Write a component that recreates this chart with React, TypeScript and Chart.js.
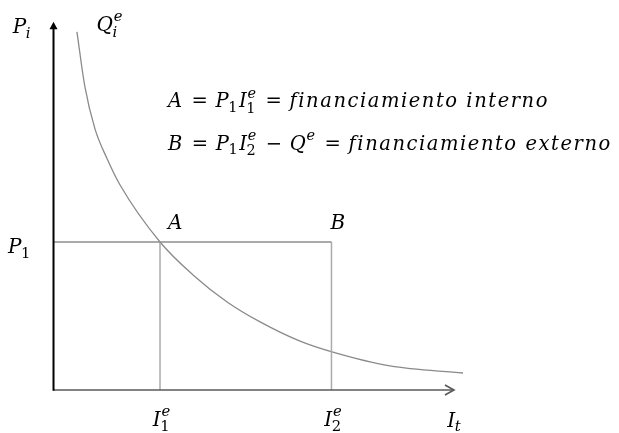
import { useEffect, useRef } from "react";
import { Chart, registerables } from "chart.js";

Chart.register(...registerables);

// ---- data (economic units) ----
const curveI = [0.44, 0.59, 0.78, 1.0, 1.25, 2.0, 2.62, 3.26, 3.88, 4.63, 5.23, 6.32, 7.69];
const curveP = [9.68, 8.19, 7.05, 6.27, 5.54, 4.0, 3.11, 2.38, 1.84, 1.32, 1.03, 0.65, 0.46];
const I1 = 2;
const I2 = 5.22;
const P1 = 4;
const axisEndI = 7.52;
const axisEndP = 9.95;

type Tok = { t: string; it?: boolean; op?: boolean; sub?: string; sup?: string };

const labelPi: Tok[] = [{ t: "P", it: true, sub: "i" }];
const labelQ: Tok[] = [{ t: "Q", it: true, sub: "i", sup: "e" }];
const labelP1: Tok[] = [{ t: "P", it: true, sub: "1" }];
const labelI1: Tok[] = [{ t: "I", it: true, sub: "1", sup: "e" }];
const labelI2: Tok[] = [{ t: "I", it: true, sub: "2", sup: "e" }];
const labelIt: Tok[] = [{ t: "I", it: true, sub: "t" }];
const labelA: Tok[] = [{ t: "A", it: true }];
const labelB: Tok[] = [{ t: "B", it: true }];
const eq1: Tok[] = [
  { t: "A", it: true },
  { t: "=", op: true },
  { t: "P", it: true, sub: "1" },
  { t: "I", it: true, sub: "1", sup: "e" },
  { t: "=", op: true },
  { t: "financiamiento interno", it: true },
];
const eq2: Tok[] = [
  { t: "B", it: true },
  { t: "=", op: true },
  { t: "P", it: true, sub: "1" },
  { t: "I", it: true, sub: "2", sup: "e" },
  { t: "\u2212", op: true },
  { t: "Q", it: true, sup: "e" },
  { t: "=", op: true },
  { t: "financiamiento externo", it: true },
];

const FAM = '"DejaVu Serif", serif';

function setFont(ctx: CanvasRenderingContext2D, size: number, it: boolean) {
  ctx.font = `${it ? "italic " : ""}${size}px ${FAM}`;
}

// width of a string drawn char by char with extra spacing
function spacedWidth(ctx: CanvasRenderingContext2D, text: string, ls: number) {
  let w = 0;
  for (const ch of text) w += ctx.measureText(ch).width + ls;
  return w;
}

function drawMath(
  ctx: CanvasRenderingContext2D,
  toks: Tok[],
  x: number,
  y: number,
  s: number,
  align: "left" | "right" | "center" = "left",
  ls = 0
) {
  const ss = s * 0.74;
  const gap = s * 0.4;
  const items: { text: string; dx: number; dy: number; size: number; it: boolean; ls: number }[] = [];
  let cx = 0;
  for (const tk of toks) {
    if (tk.op) {
      cx += gap;
      setFont(ctx, s, false);
      items.push({ text: tk.t, dx: cx, dy: 0, size: s, it: false, ls: 0 });
      cx += ctx.measureText(tk.t).width + gap;
      continue;
    }
    setFont(ctx, s, !!tk.it);
    items.push({ text: tk.t, dx: cx, dy: 0, size: s, it: !!tk.it, ls });
    cx += spacedWidth(ctx, tk.t, ls) - (tk.sub || tk.sup ? ls : 0);
    let w = 0;
    if (tk.sup) {
      setFont(ctx, ss, true);
      items.push({ text: tk.sup, dx: cx + s * 0.04, dy: -s * 0.5, size: ss, it: true, ls: 0 });
      w = Math.max(w, ctx.measureText(tk.sup).width + s * 0.04);
    }
    if (tk.sub) {
      const isDigit = /\d/.test(tk.sub);
      setFont(ctx, ss, !isDigit);
      items.push({
        text: tk.sub,
        dx: cx - s * 0.02,
        dy: tk.sup ? s * 0.27 : s * 0.22,
        size: ss,
        it: !isDigit,
        ls: 0,
      });
      w = Math.max(w, ctx.measureText(tk.sub).width - s * 0.02);
    }
    if (tk.sub || tk.sup) w += ls;
    cx += w;
  }
  const x0 = align === "left" ? x : align === "right" ? x - cx : x - cx / 2;
  ctx.save();
  ctx.fillStyle = "#000";
  ctx.textBaseline = "alphabetic";
  ctx.textAlign = "left";
  for (const it of items) {
    setFont(ctx, it.size, it.it);
    let px = x0 + it.dx;
    for (const ch of it.text) {
      ctx.fillText(ch, px, y + it.dy);
      px += ctx.measureText(ch).width + it.ls;
    }
  }
  ctx.restore();
}

const annotations = {
  id: "econAnnotations",
  afterDatasetsDraw(chart: Chart) {
    const ctx = chart.ctx;
    const xs = chart.scales.x;
    const ys = chart.scales.y;
    const ox = xs.getPixelForValue(0);
    const oy = ys.getPixelForValue(0);
    const xEnd = xs.getPixelForValue(axisEndI);
    const yEnd = ys.getPixelForValue(axisEndP);

    ctx.save();
    // x axis with open chevron
    ctx.strokeStyle = "#5a5a5a";
    ctx.lineWidth = 1.7;
    ctx.beginPath();
    ctx.moveTo(ox, oy);
    ctx.lineTo(xEnd, oy);
    ctx.stroke();
    ctx.beginPath();
    ctx.moveTo(xEnd - 9, oy - 5);
    ctx.lineTo(xEnd, oy);
    ctx.lineTo(xEnd - 9, oy + 5);
    ctx.stroke();
    // y axis with filled triangle
    ctx.strokeStyle = "#000";
    ctx.fillStyle = "#000";
    ctx.lineWidth = 2;
    ctx.beginPath();
    ctx.moveTo(ox, oy + 0.8);
    ctx.lineTo(ox, yEnd + 6);
    ctx.stroke();
    ctx.beginPath();
    ctx.moveTo(ox, yEnd);
    ctx.lineTo(ox - 4, yEnd + 7.5);
    ctx.lineTo(ox + 4, yEnd + 7.5);
    ctx.closePath();
    ctx.fill();
    ctx.restore();

    const pxI1 = xs.getPixelForValue(I1);
    const pxI2 = xs.getPixelForValue(I2);
    const pyP1 = ys.getPixelForValue(P1);
    const cx0 = xs.getPixelForValue(curveI[0]);
    const cy0 = ys.getPixelForValue(curveP[0]);

    const S = 20;
    drawMath(ctx, labelPi, ox - 23, yEnd + 11.6, S, "right");
    drawMath(ctx, labelQ, cx0 + 19.5, cy0 - 0.5, S, "left");
    drawMath(ctx, labelP1, ox - 23, pyP1 + 11.3, S, "right");
    drawMath(ctx, labelA, pxI1 + 8, pyP1 - 12.7, S, "left");
    drawMath(ctx, labelB, pxI2 - 1, pyP1 - 13, S, "left");
    drawMath(ctx, labelI1, pxI1 + 1.5, oy + 36, S, "center");
    drawMath(ctx, labelI2, pxI2 + 1.5, oy + 36, S, "center");
    drawMath(ctx, labelIt, xEnd, oy + 36.5, S, "center");

    const E = 19.5;
    drawMath(ctx, eq1, pxI1 + 8, yEnd + 85.6, E, "left", 1.55);
    drawMath(ctx, eq2, pxI1 + 8, yEnd + 128.3, E, "left", 1.55);
  },
};

export default function App() {
  const ref = useRef<HTMLCanvasElement | null>(null);
  useEffect(() => {
    if (!ref.current) return;
    const curve = curveI.map((v, i) => ({ x: v, y: curveP[i] }));
    const chart = new Chart(ref.current, {
      type: "scatter",
      data: {
        datasets: [
          {
            data: [
              { x: 0, y: P1 },
              { x: I2, y: P1 },
            ],
            showLine: true,
            borderColor: "#8e8e8e",
            borderWidth: 1.5,
            pointRadius: 0,
          },
          {
            data: [
              { x: I1, y: 0 },
              { x: I1, y: P1 },
            ],
            showLine: true,
            borderColor: "#ababab",
            borderWidth: 1.5,
            pointRadius: 0,
          },
          {
            data: [
              { x: I2, y: 0 },
              { x: I2, y: P1 },
            ],
            showLine: true,
            borderColor: "#ababab",
            borderWidth: 1.5,
            pointRadius: 0,
          },
          {
            data: curve,
            showLine: true,
            borderColor: "#8a8a8a",
            borderWidth: 1.3,
            pointRadius: 0,
            cubicInterpolationMode: "monotone",
          },
        ],
      },
      options: {
        responsive: false,
        animation: false,
        devicePixelRatio: 1,
        layout: { padding: 0 },
        plugins: { legend: { display: false }, tooltip: { enabled: false } },
        events: [],
        scales: {
          x: { type: "linear", display: false, min: -1.005, max: 10.62 },
          y: { type: "linear", display: false, min: -1.162, max: 10.54 },
        },
      },
      plugins: [annotations],
    });
    return () => chart.destroy();
  }, []);
  return (
    <div style={{ position: "fixed", left: 0, top: 0, width: 619, height: 433, background: "#fff" }}>
      <canvas ref={ref} width={619} height={433} />
    </div>
  );
}
